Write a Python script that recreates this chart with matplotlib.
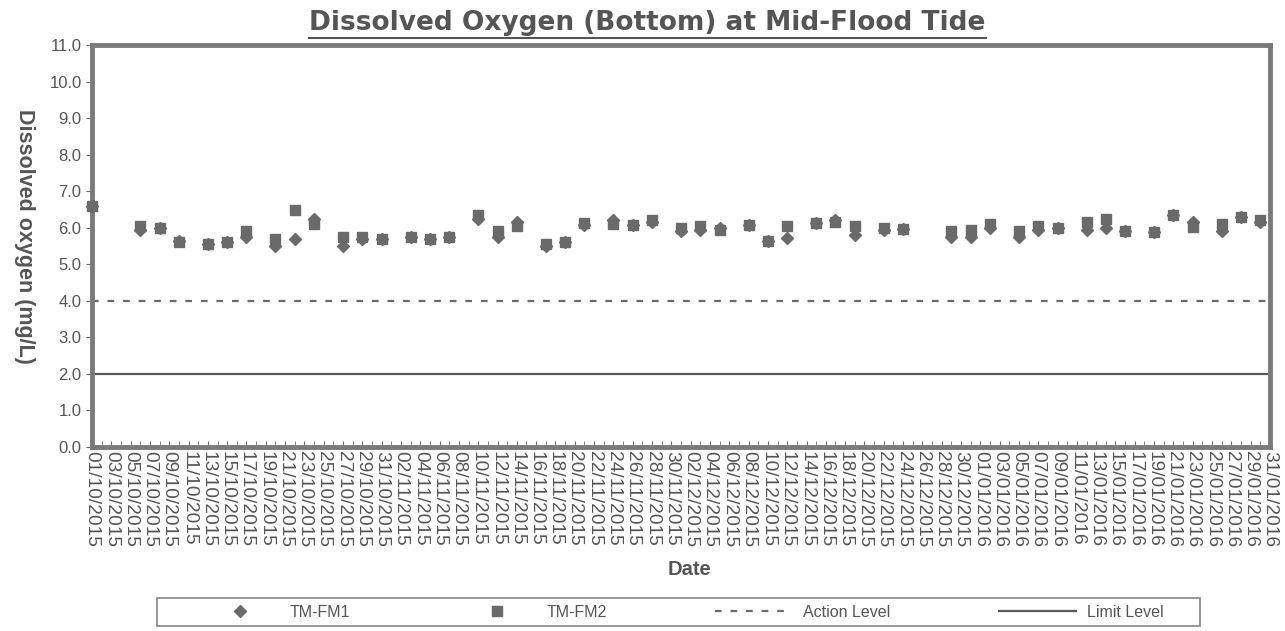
import numpy as np
import matplotlib
matplotlib.use("Agg")
import matplotlib.pyplot as plt
import matplotlib.dates as mdates
from matplotlib.lines import Line2D
from matplotlib.patches import Rectangle

plt.rcParams['font.family'] = ['Liberation Sans', 'DejaVu Sans']

# sampling dates
dates = ["2015-10-01", "2015-10-06", "2015-10-08", "2015-10-10", "2015-10-13",
         "2015-10-15", "2015-10-17", "2015-10-20", "2015-10-22", "2015-10-24",
         "2015-10-27", "2015-10-29", "2015-10-31", "2015-11-03", "2015-11-05",
         "2015-11-07", "2015-11-10", "2015-11-12", "2015-11-14", "2015-11-17",
         "2015-11-19", "2015-11-21", "2015-11-24", "2015-11-26", "2015-11-28",
         "2015-12-01", "2015-12-03", "2015-12-05", "2015-12-08", "2015-12-10",
         "2015-12-12", "2015-12-15", "2015-12-17", "2015-12-19", "2015-12-22",
         "2015-12-24", "2015-12-29", "2015-12-31", "2016-01-02", "2016-01-05",
         "2016-01-07", "2016-01-09", "2016-01-12", "2016-01-14", "2016-01-16",
         "2016-01-19", "2016-01-21", "2016-01-23", "2016-01-26", "2016-01-28",
         "2016-01-30"]

tm_fm1 = [6.6, 5.95, 6.0, 5.65, 5.55, 5.6, 5.75, 5.5, 5.7, 6.25,
          5.5, 5.7, 5.7, 5.75, 5.68, 5.75, 6.25, 5.75, 6.15, 5.5,
          5.6, 6.08, 6.2, 6.08, 6.15, 5.9, 5.95, 6.0, 6.08, 5.65,
          5.72, 6.12, 6.2, 5.8, 5.95, 5.97, 5.75, 5.75, 6.0, 5.75,
          5.95, 6.0, 5.95, 6.0, 5.9, 5.88, 6.35, 6.15, 5.9, 6.3,
          6.15]

tm_fm2 = [6.6, 6.05, 6.0, 5.6, 5.55, 5.6, 5.9, 5.7, 6.48, 6.1,
          5.75, 5.75, 5.7, 5.75, 5.68, 5.75, 6.35, 5.9, 6.05, 5.55,
          5.6, 6.12, 6.1, 6.08, 6.2, 6.0, 6.05, 5.95, 6.08, 5.65,
          6.05, 6.12, 6.15, 6.05, 6.0, 5.97, 5.9, 5.95, 6.1, 5.9,
          6.05, 6.0, 6.15, 6.25, 5.9, 5.88, 6.35, 6.02, 6.1, 6.3,
          6.2]

action_level = 4.0
limit_level = 2.0
x_start, x_end = "2015-10-01", "2016-01-31"

grey = '#6a6a6a'
txt = '#555555'

d = np.array(dates, dtype='datetime64[D]')
x0 = np.datetime64(x_start)
x1 = np.datetime64(x_end)

fig = plt.figure(figsize=(12.85, 6.31), dpi=100)
ax = fig.add_axes([0.0716, 0.2916, 0.9167, 0.6371])

ax.plot(d, tm_fm1, linestyle='none', marker='D', markersize=6.5, color=grey,
        clip_on=False, zorder=4, label='TM-FM1')
ax.plot(d, tm_fm2, linestyle='none', marker='s', markersize=7.5, color=grey,
        clip_on=False, zorder=3, label='TM-FM2')
ax.plot([x0, x1], [action_level, action_level], linestyle=(0, (3, 4)),
        color=grey, linewidth=1.6, label='Action Level')
ax.plot([x0, x1], [limit_level, limit_level], linestyle='-',
        color='#5a5a5a', linewidth=1.6, label='Limit Level')

ax.set_xlim(x0, x1)
ax.set_ylim(0, 11)
ax.set_yticks(np.arange(0, 11.01, 1.0))
ax.set_yticklabels(['%.1f' % v for v in np.arange(0, 11.01, 1.0)])

major = np.arange(x0, x1 + 1, 2)
ax.set_xticks(major)
ax.xaxis.set_major_formatter(mdates.DateFormatter('%d/%m/%Y'))
ax.set_xticks(np.arange(x0, x1 + 1, 1), minor=True)
for lab in ax.get_xticklabels():
    lab.set_rotation(270)
    lab.set_fontsize(13.8)
    lab.set_color(txt)
ax.tick_params(axis='x', which='both', direction='in', length=4, color=grey, pad=3)
ax.tick_params(axis='y', labelsize=12, labelcolor=txt, color=grey, length=4, direction='out')

for s in ax.spines.values():
    s.set_linewidth(3.5)
    s.set_color('#7a7a7a')

ax.set_xlabel('Date', fontsize=14.5, fontweight='bold', color=txt)
ax.xaxis.set_label_coords(0.507, -0.282)
ax.set_ylabel('Dissolved oxygen (mg/L)', fontsize=15.5, fontweight='bold', color=txt,
              rotation=270)
ax.yaxis.set_label_coords(-0.066, 0.525)

title = fig.text(0.504, 0.964, 'Dissolved Oxygen (Bottom) at Mid-Flood Tide',
                 ha='center', va='center', fontsize=19, fontweight='bold', color=txt,
                 family='DejaVu Sans')

# legend box below the chart
fig.add_artist(Rectangle((0.1222, 0.0079), 0.8117, 0.0444, transform=fig.transFigure,
                         fill=False, edgecolor='#888888', linewidth=1.2))
leg = fig.legend(loc='center', bbox_to_anchor=(0.531, 0.030), ncol=4, frameon=False,
                 fontsize=11.5, handlelength=4.8, handletextpad=0.7,
                 columnspacing=6.8, labelcolor=txt)

# underline for the title
fig.canvas.draw()
bb = title.get_window_extent()
yy = bb.y0 - 2
fig.add_artist(Line2D([bb.x0 / fig.bbox.width, bb.x1 / fig.bbox.width],
                      [yy / fig.bbox.height, yy / fig.bbox.height],
                      transform=fig.transFigure, color=txt, linewidth=1.5))

fig.savefig('out.png', dpi=100)
